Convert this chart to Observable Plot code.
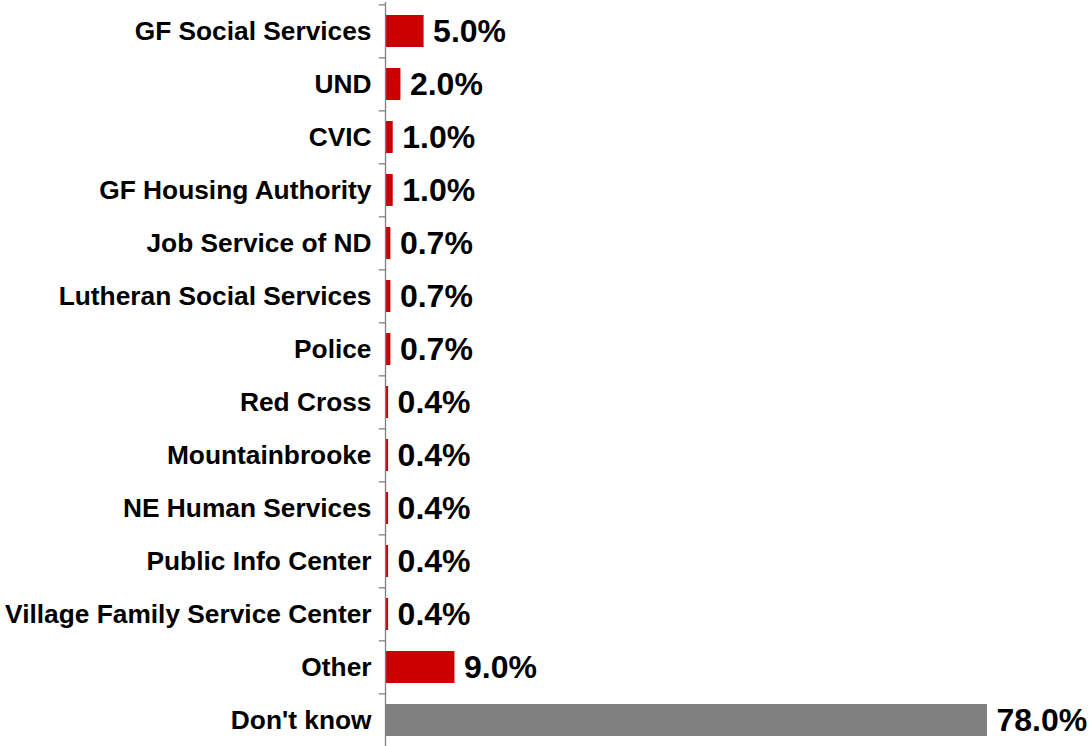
<!DOCTYPE html>
<html>
<head>
<meta charset="utf-8">
<script src="https://cdn.jsdelivr.net/npm/d3@7"></script>
<script src="https://cdn.jsdelivr.net/npm/@observablehq/plot@0.6"></script>
<style>
  html, body { margin: 0; padding: 0; background: #fff; overflow: hidden; }
  #chart svg { display: block; }
</style>
</head>
<body>
<div id="chart"></div>
<script>
const categories = [
  "GF Social Services", "UND", "CVIC", "GF Housing Authority", "Job Service of ND",
  "Lutheran Social Services", "Police", "Red Cross", "Mountainbrooke",
  "NE Human Services", "Public Info Center", "Village Family Service Center",
  "Other", "Don't know"
];
const values = [5.0, 2.0, 1.0, 1.0, 0.7, 0.7, 0.7, 0.4, 0.4, 0.4, 0.4, 0.4, 9.0, 78.0];
const barColors = ["#CC0000","#CC0000","#CC0000","#CC0000","#CC0000","#CC0000","#CC0000",
  "#CC0000","#CC0000","#CC0000","#CC0000","#CC0000","#CC0000","#808080"];

const data = categories.map((c, i) => ({cat: c, value: values[i], color: barColors[i]}));

const W = 1089, H = 748, mTop = 2, mBottom = 0;
const step = (H - mTop - mBottom) / categories.length;

const chart = Plot.plot({
  width: W,
  height: H,
  marginLeft: 385,
  marginRight: 102,
  marginTop: mTop,
  marginBottom: mBottom,
  style: {fontFamily: "'Liberation Sans', Arial, sans-serif", fontWeight: "bold", fontSize: "26px", color: "#000", background: "#fff"},
  x: {domain: [0, 78], axis: null},
  y: {domain: categories, paddingInner: 0.4, paddingOuter: 0.2, axis: null},
  color: {type: "identity"},
  marks: [
    Plot.barX(data, {x: "value", y: "cat", fill: "color"}),
    Plot.ruleY(categories, {y: d => d, x1: -0.8, x2: 0, dy: -step / 2, stroke: "#808080", strokeWidth: 1.3}),
    Plot.ruleX([0], {stroke: "#808080", strokeWidth: 1.3}),
    Plot.axisY({tickSize: 0, tickPadding: 14, fontSize: 26.3, fontWeight: "bold", fill: "#000", label: null}),
    Plot.text(data, {x: "value", y: "cat", text: d => d.value.toFixed(1) + "%", dx: 9, textAnchor: "start", fontSize: 32, fontWeight: "bold", fill: "#000"})
  ]
});
document.getElementById("chart").appendChild(chart);
</script>
</body>
</html>
